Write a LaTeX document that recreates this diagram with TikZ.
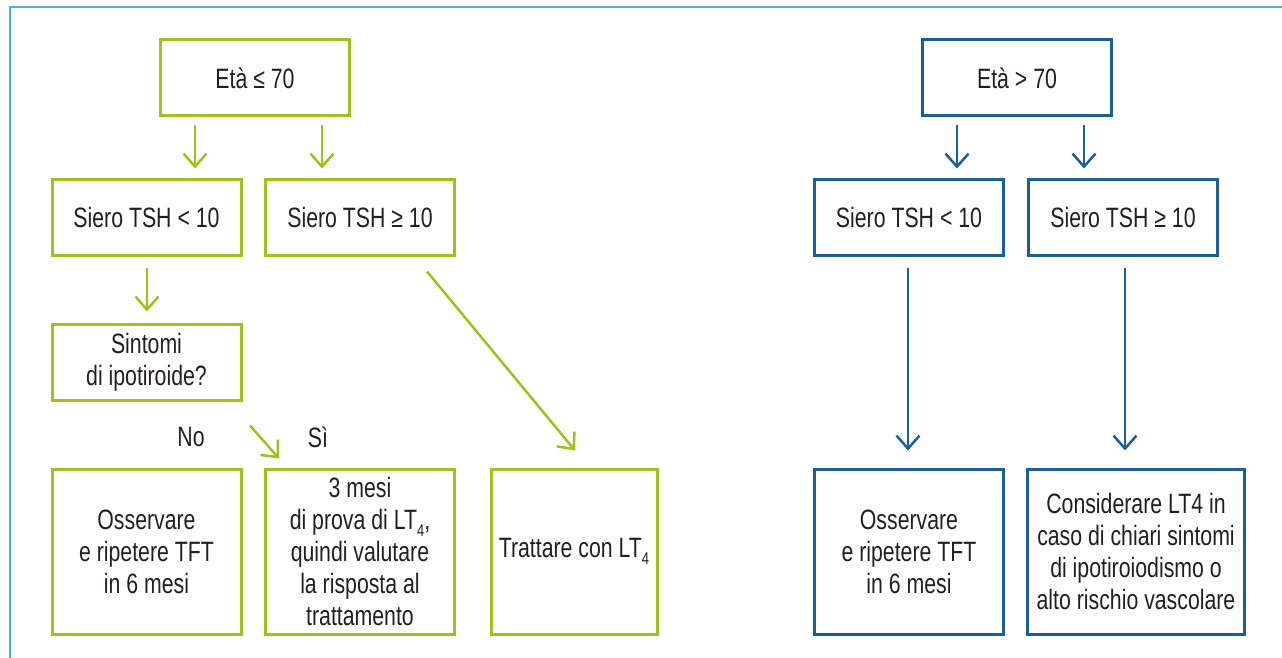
\documentclass[tikz,border=0pt]{standalone}
\usepackage{fontspec}
\setmainfont[FakeStretch=0.76]{Liberation Sans}
\usetikzlibrary{arrows.meta,calc,positioning}
\definecolor{lime}{HTML}{9BC31C}
\definecolor{navy}{HTML}{1A5E9A}
\definecolor{sky}{HTML}{41B6E6}
\definecolor{ink}{HTML}{231F20}
\newcommand{\lowfour}{\raisebox{-7pt}{\fontsize{17}{17}\selectfont 4}}

\begin{document}
\begin{tikzpicture}[x=1pt,y=-1pt,
  greenbox/.style={rectangle,draw=lime,line width=3pt,text=ink,align=center,
    minimum width=189pt,minimum height=76pt,inner sep=0pt,font=\fontsize{28}{32}\selectfont},
  bluebox/.style={greenbox,draw=navy},
  garrow/.style={draw=lime,line width=2.5pt,-{Straight Barb[length=13pt,width=23pt,line width=2.5pt]}},
  barrow/.style={garrow,draw=navy},
  lbl/.style={text=ink,font=\fontsize{28}{32}\selectfont}]
\useasboundingbox (0,0) rectangle (1282,658);
\draw[sky,line width=2pt] (10,658)--(10,7)--(1282,7) ;
% left tree
       \node [greenbox]  (eta1) at (255,78) {Età ≤ 70};
       \node [greenbox]  (tshA) at (146.5,217) {Siero TSH < 10};
       \node [greenbox]  (tshB) at (360,217) {Siero TSH ≥ 10};
       \node [greenbox]  (sint) at (146.5,362) {Sintomi\\di ipotiroide?};
       \node [greenbox,minimum height=165pt]  (oss1) at (146.5,551.5) {Osservare\\e ripetere TFT\\in 6 mesi};
       \node [greenbox,minimum height=165pt]  (mesi) at (360,551.5) {3 mesi\\di prova di LT\lowfour,\\quindi valutare\\la risposta al\\trattamento};
       \node [greenbox,minimum width=166pt,minimum height=165pt]  (tratt) at (574,551.5) {Trattare con LT\lowfour};
       \node [lbl]  (no) at (191,437) {No};
       \node [lbl]  (si) at (318,437) {Sì};
% right tree
       \node [bluebox]  (eta2) at (1017,78) {Età > 70};
       \node [bluebox]  (tshC) at (909,217) {Siero TSH < 10};
       \node [bluebox]  (tshD) at (1123,217) {Siero TSH ≥ 10};
       \node [bluebox,minimum height=165pt]  (oss2) at (909,551.5) {Osservare\\e ripetere TFT\\in 6 mesi};
       \node [bluebox,minimum width=217pt,minimum height=165pt]  (cons) at (1136,551.5) {Considerare LT4 in\\caso di chiari sintomi\\di ipotiroiodismo o\\alto rischio vascolare};
% arrows
\draw[garrow] ($(eta1.south)+(-60,8)$) -- ($(tshA.north)+(48.5,-9)$) ;
\draw[garrow] ($(eta1.south)+(67,8)$) -- ($(tshB.north)+(-38,-9)$) ;
\draw[garrow] ($(tshA.south)+(0.5,11)$) -- ($(sint.north)+(0.5,-11)$) ;
\draw[garrow] ($(sint.south)+(103.5,24)$) -- ($(mesi.north)+(-81,-9)$) ;
\draw[garrow] ($(tshB.south)+(67,15)$) -- ($(tratt.north)+(1,-17)$) ;
\draw[barrow] ($(eta2.south)+(-60,8)$) -- ($(tshC.north)+(48,-9)$) ;
\draw[barrow] ($(eta2.south)+(67,8)$) -- ($(tshD.north)+(-39,-9)$) ;
\draw[barrow] ($(tshC.south)+(-1,11)$) -- ($(oss2.north)+(-1,-17)$) ;
\draw[barrow] ($(tshD.south)+(2,11)$) -- ($(cons.north)+(-11,-17)$) ;
\end{tikzpicture}
\end{document}
